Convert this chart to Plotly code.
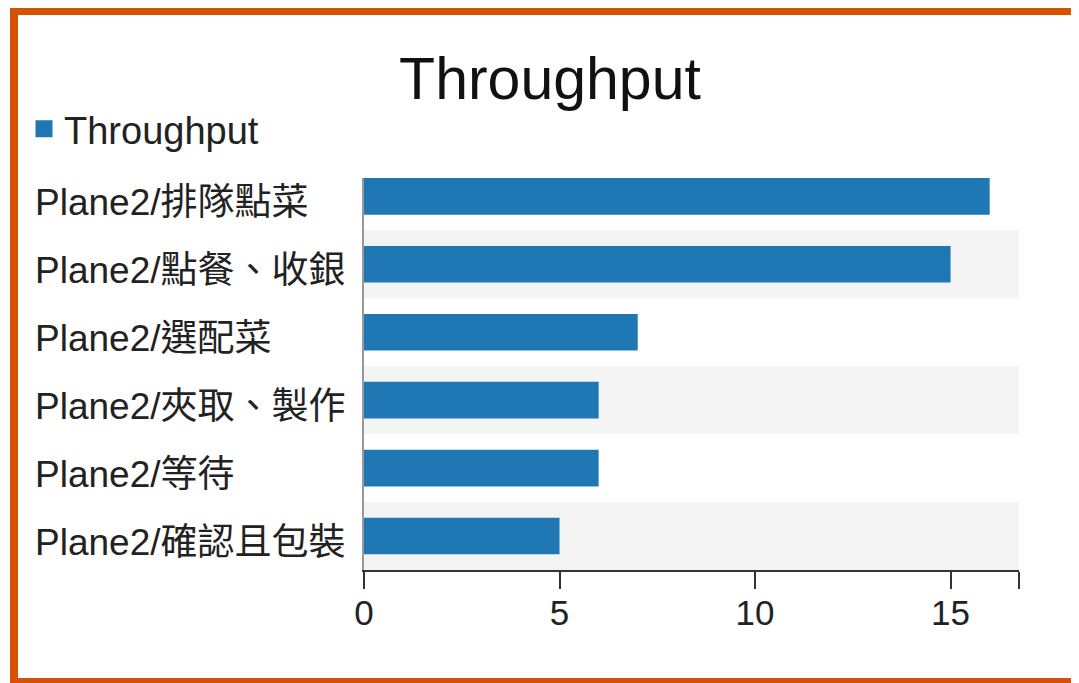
import plotly.graph_objects as go

categories = ["Plane2/排隊點菜", "Plane2/點餐、收銀", "Plane2/選配菜",
              "Plane2/夾取、製作", "Plane2/等待", "Plane2/確認且包裝"]
throughput = [16, 15, 7, 6, 6, 5]
tick_values = [0, 5, 10, 15]
tick_labels = ["0", "5", "10", "15"]
series_name = "Throughput"
chart_title = "Throughput"

# page has an 8px body margin; design coordinates below are page pixels
OFF = 8
W, H = 1079 - OFF, 683 - OFF
ML, MR, MT, MB = 364 - OFF, 60, 178 - OFF, 113
PW, PH = W - ML - MR, H - MT - MB
X_MAX = 16.75

def px_x(p):
    return (p - OFF - ML) / PW

def px_y(p):
    return (H - MB - (p - OFF)) / PH

FONT = "Liberation Sans, Arial, 'Noto Sans CJK TC', sans-serif"
BAR_COLOR = "#1f77b4"

fig = go.Figure()
fig.add_trace(go.Bar(
    y=categories, x=throughput, orientation="h", name=series_name,
    marker=dict(color=BAR_COLOR, line=dict(width=0)), width=0.54,
    showlegend=False, legendgroup="t",
))
# legend entry (larger swatch)
fig.add_trace(go.Bar(
    y=[None], x=[None], orientation="h", name=series_name,
    marker=dict(color=BAR_COLOR, line=dict(width=10, color=BAR_COLOR)),
    showlegend=True, legendgroup="t",
))

shapes = []
for i in range(len(categories)):
    if i % 2 == 1:
        shapes.append(dict(type="rect", xref="x domain", yref="y",
                           x0=0, x1=1, y0=i - 0.5, y1=i + 0.5,
                           fillcolor="#f4f4f4", line=dict(width=0), layer="below"))
# orange frame
shapes.append(dict(type="rect", xref="paper", yref="paper",
                   x0=px_x(14), x1=px_x(1100), y0=px_y(11), y1=px_y(682),
                   line=dict(color="#d45200", width=8), fillcolor="rgba(0,0,0,0)",
                   layer="above"))

annotations = []
for c in categories:
    annotations.append(dict(text=c, xref="paper", yref="y", x=px_x(33), y=c,
                            xanchor="left", yanchor="middle", showarrow=False,
                            yshift=-6,
                            font=dict(size=37, color="#222", family=FONT)))

fig.update_layout(
    width=W, height=H,
    margin=dict(l=ML, r=MR, t=MT, b=MB, pad=0),
    paper_bgcolor="white", plot_bgcolor="white",
    font=dict(family=FONT, color="#222"),
    title=dict(text=chart_title, xref="container", yref="container",
               x=(550 - OFF) / W, y=1 - (78 - OFF) / H, xanchor="center",
               yanchor="middle", font=dict(size=59, color="#111", family=FONT)),
    legend=dict(xref="container", yref="container", x=(24 - OFF) / W,
                y=1 - (129 - OFF) / H, xanchor="left", yanchor="middle",
                font=dict(size=38, color="#222"),
                bgcolor="rgba(0,0,0,0)", borderwidth=0),
    xaxis=dict(range=[0, X_MAX], tickvals=tick_values + [X_MAX],
               ticktext=tick_labels + [""], ticks="outside", ticklen=17,
               tickwidth=2, tickcolor="#333", showline=True, linecolor="#333",
               linewidth=2, showgrid=False, zeroline=False,
               ticklabelstandoff=-6,
               tickfont=dict(size=35, color="#222")),
    yaxis=dict(type="category", categoryorder="array", categoryarray=categories,
               range=[len(categories) - 0.5, -0.27], showticklabels=False,
               showline=True, linecolor="#999", linewidth=2, showgrid=False,
               zeroline=False, ticks=""),
    shapes=shapes, annotations=annotations, bargap=0.46,
)

fig.write_html("out.html")
